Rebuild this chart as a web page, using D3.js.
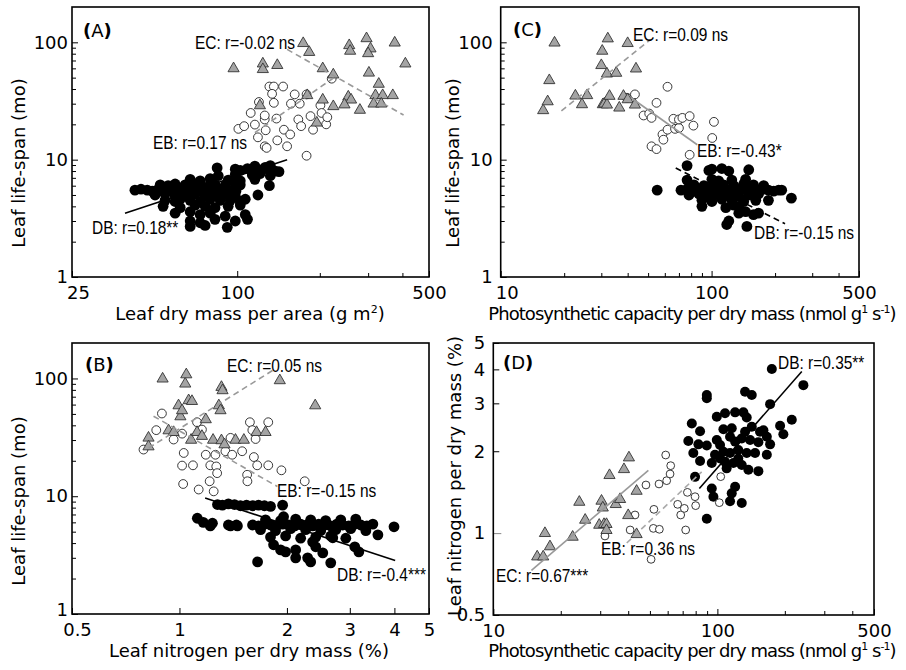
<!DOCTYPE html>
<html>
<head>
<meta charset="utf-8">
<script src="https://cdn.jsdelivr.net/npm/d3@7"></script>
<style>
  body { margin: 0; background: #fff; }
  svg { display: block; }
</style>
</head>
<body>
<div id="vis"></div>
<script>
// ---- (A) leaf life-span vs leaf dry mass per area ----
const aEcX = [97, 124, 124, 140, 174, 183, 205, 224, 180, 205, 224, 195, 256, 258, 296, 306, 300, 302, 328, 319, 339, 314, 335, 254, 260, 246, 280, 375, 410, 369, 121];
const aEcY = [61, 67, 60, 65, 100, 84, 61, 54, 36, 33, 29, 21, 96, 86, 110, 90, 82, 56, 45, 36, 36, 30.5, 30.5, 35, 33, 30, 27, 101, 67, 36, 29.5];
const aEbX = [101, 106, 112, 116, 119, 120, 127, 126, 126, 131, 136, 147, 134, 136, 139, 140, 148, 152, 156, 162, 157, 169, 167, 171, 179, 185, 189, 201, 203, 211, 213, 221, 179, 126, 128];
const aEbY = [18.3, 19.3, 25, 19.9, 15.5, 31, 17.8, 22, 23.8, 42, 42, 42, 36.4, 30.5, 22.4, 14.6, 18, 13, 16.4, 36, 30, 30, 22, 19.3, 36, 23.5, 18, 29, 25, 20, 23, 49, 10.8, 13, 12.6];
const aDbX = [42.4, 44.6, 47, 49, 51, 53.3, 55.5, 58, 60.4, 63, 65.7, 68.5, 71.5, 74.5, 77.7, 81, 84.5, 88, 92, 96, 99,
  52.4, 56, 59.4, 64.6, 69, 73.3, 79.7, 83, 90.4, 98.4, 102.6,
  50.2, 54.6, 59.4, 64.6, 70.3, 76.4, 83, 90.4, 98.4,
  54.6, 59.4, 62, 67.4, 73.3, 79.7, 86.7, 94.3, 102.6, 107,
  53.7, 62, 70.3, 76.4, 83, 92.7, 102.6,
  59.4, 67.4, 73.3, 79.7, 90.4, 107,
  67.4, 73.3, 83, 98.4, 109,
  67.4, 76.4, 92,
  67.4, 73.3, 79.7, 92.7, 102.6, 116,
  85.3, 98.4, 113.5, 121, 132,
  84.5, 98.4, 102.6, 109, 123.4, 137.7,
  116, 126.5, 132,
  119, 131, 142, 128.7];
const aDbY = [5.5, 5.6, 5.5, 5.4, 5.5, 5.6, 5.5, 5.4, 5.5, 5.6, 5.5, 5.5, 5.4, 5.6, 5.5, 5.5, 5.4, 5.6, 5.5, 5.5, 5.4,
  6.1, 6.0, 6.2, 6.1, 6.3, 6.0, 6.2, 6.1, 6.0, 6.2, 6.1,
  5.0, 5.1, 4.9, 5.0, 5.1, 4.9, 5.0, 5.1, 4.9,
  4.5, 4.4, 4.6, 4.5, 4.4, 4.6, 4.5, 4.5, 4.4, 4.6,
  4.0, 3.9, 4.1, 4.0, 3.9, 4.0, 4.1,
  3.5, 3.6, 3.4, 3.5, 3.3, 3.4,
  3.0, 2.9, 3.1, 3.0, 3.1,
  2.7, 2.75, 2.65,
  6.8, 6.6, 6.9, 6.7, 6.6, 6.8,
  7.3, 7.5, 7.4, 7.6, 7.3,
  8.5, 8.3, 8.1, 8.4, 8.2, 8.0,
  8.8, 8.6, 8.9,
  5.0, 6.0, 7.9, 8.5];
const aFitEC = [[152, 87], [404, 24]];
const aFitEB = [[116, 17], [228, 51]];
const aFitDB = [[39, 3.5], [152, 10]];

// ---- (C) leaf life-span vs photosynthetic capacity ----
const cEcX = [15.9, 16.7, 17, 18, 22.6, 24.3, 25.7, 30, 30.3, 30.5, 31, 31.9, 32.2, 31.9, 32.8, 35.3, 36.5, 38.2, 40, 40, 43.3, 43.8];
const cEcY = [26.8, 31.9, 48.3, 101, 35.7, 30.1, 36, 64.9, 86, 30.1, 30.5, 29.9, 109.6, 55, 35.5, 55.8, 28.2, 35.5, 100, 33.2, 29.9, 60.7];
const cEbX = [39.7, 43.3, 47.6, 50.6, 51.9, 54.8, 51.9, 54.8, 58.5, 59.1, 61.8, 61.8, 65.9, 67.1, 70, 70, 72.7, 78.7, 82, 78.7, 100.7, 102.6];
const cEbY = [33.7, 36, 23.8, 24.7, 22.7, 30.5, 13, 12.3, 16.4, 14.8, 41.8, 18, 22.3, 18.3, 18.6, 22, 22.7, 23.5, 19.5, 11, 15.3, 21];
const cDbX = [55.2, 71.6, 76.5, 82.5, 87.1, 92, 97.1, 102.5, 108, 114, 120.7, 127.4, 134.6, 142, 150, 158, 167, 176.6, 186, 197, 208, 215,
  82.5, 92, 102.5, 114, 127.4, 142, 158, 176.6,
  78.1, 87.1, 97.1, 108, 118, 134.6, 150, 167, 239,
  90, 100.3, 111.8, 124.7, 142, 162, 186,
  76.5, 100.3, 108, 124.7, 145,
  97.1, 100.3, 111.8, 120.7, 150,
  76.5,
  90, 116.8, 127.4, 134.6,
  134.6, 145, 158, 167,
  118, 120.7, 147];
const cDbY = [5.5, 5.5, 5.6, 5.4, 5.5, 5.6, 5.5, 5.4, 5.5, 5.6, 5.5, 5.4, 5.5, 5.6, 5.5, 5.4, 5.5, 5.6, 5.5, 5.4, 5.5, 5.5,
  6.1, 6.0, 6.2, 6.1, 6.0, 6.2, 6.1, 6.0,
  5.0, 5.1, 4.9, 5.0, 5.1, 4.9, 5.0, 5.1, 4.7,
  4.5, 4.4, 4.6, 4.5, 4.4, 4.5, 4.5,
  6.7, 6.8, 6.6, 6.7, 6.8,
  8.1, 8.3, 8.4, 8.0, 8.2,
  8.9,
  4.0, 3.9, 4.1, 4.0,
  3.5, 3.6, 3.4, 3.5,
  2.8, 3.0, 2.7];
const cFitEC = [[19.4, 26], [51.5, 106]];
const cFitEB = [[41.5, 33.7], [85.5, 13.4]];
const cFitDB = [[67.6, 8.5], [223, 2.84]];

// ---- (B) leaf life-span vs leaf nitrogen ----
const bEcX = [0.819, 0.819, 0.897, 0.932, 0.963, 0.994, 1.006, 1.017, 1.038, 1.045, 1.061, 1.084, 1.078, 1.12, 1.156, 1.185, 1.289, 1.303, 1.311, 1.32, 1.242, 1.311, 1.337, 1.435, 1.515, 1.644, 1.742, 1.91, 2.40];
const bEcY = [31.9, 26.9, 101.3, 36.8, 35.6, 60, 48.4, 54.5, 91.8, 110, 66.3, 65.3, 30.6, 35.6, 33, 45.7, 60, 54.5, 86, 80.6, 30.6, 30.3, 28, 30.6, 30.6, 35.6, 35.6, 98, 60];
const bEbX = [0.793, 0.861, 0.893, 0.963, 1.017, 1.028, 1.017, 1.024, 1.091, 1.132, 1.12, 1.156, 1.185, 1.22, 1.215, 1.247, 1.261, 1.268, 1.275, 1.345, 1.405, 1.498, 1.547, 1.55, 1.575, 1.6, 1.616, 1.634, 1.651, 1.773, 1.773, 1.93, 2.243, 1.39];
const bEbY = [24.9, 36.4, 50.4, 30.3, 34, 23.3, 18.2, 12.7, 18.3, 11.4, 42.5, 36.8, 22.5, 18.3, 13.4, 11, 22.5, 17.9, 15.7, 24.1, 22.5, 24.1, 15.2, 13.4, 42.5, 36.4, 21.5, 30.6, 18.3, 42.5, 18.3, 16.6, 13.4, 31.3];
const bDbX = [1.278, 1.319, 1.371, 1.426, 1.482, 1.541, 1.602, 1.665, 1.73, 1.799, 1.945, 1.957,
  1.122, 1.166, 1.22, 1.237, 1.39, 1.453, 1.371, 1.444,
  1.602, 1.665, 1.73, 1.799, 1.87, 1.945, 2.022, 2.103, 2.185, 2.272, 2.361, 2.455, 2.552, 2.653, 2.758, 2.864, 2.978, 3.098, 3.221, 3.348, 3.481, 3.99,
  1.742, 1.92, 2.116, 2.331, 2.568, 2.83, 3.118,
  1.687, 1.858, 2.049, 2.257, 2.487, 2.741, 3.018, 3.327, 3.596,
  1.799, 1.983, 2.185, 2.408, 2.653, 2.924,
  1.835, 1.92, 1.983, 2.116, 2.361, 2.408, 2.286, 2.52, 2.688, 3.098, 3.18, 1.655, 2.116, 2.331, 2.653];
const bDbY = [8.5, 8.4, 8.6, 8.5, 8.3, 8.4, 8.3, 8.4, 8.3, 8.2, 8.4, 6.7,
  6.5, 6.0, 5.6, 5.9, 5.6, 5.6, 5.7, 5.7,
  5.7, 5.6, 5.8, 5.7, 5.6, 5.8, 5.7, 5.6, 5.8, 5.7, 5.6, 5.8, 5.7, 5.6, 5.8, 5.7, 5.6, 5.8, 5.7, 5.6, 5.8, 5.5,
  6.3, 6.2, 6.4, 6.3, 6.2, 6.3, 6.4,
  5.2, 5.1, 5.3, 5.2, 5.1, 5.2, 5.3, 5.1, 4.7,
  4.5, 4.6, 4.4, 4.5, 4.6, 4.4,
  3.87, 3.5, 3.37, 3.5, 4.1, 3.72, 3.0, 3.3, 4.44, 3.72, 3.37, 2.77, 3.0, 2.77, 2.72];
const bFitEC = [[0.82, 25.7], [1.84, 119]];
const bFitEB = [[0.846, 47.8], [1.88, 12.1]];
const bFitDB = [[1.18, 9.65], [4.02, 2.84]];

// ---- (D) leaf nitrogen vs photosynthetic capacity ----
const dEcX = [15.7, 16.7, 17, 17.9, 22.6, 24.2, 25.7, 29.7, 30.4, 30.8, 31.2, 32, 32, 33, 35.2, 36.8, 38.3, 40.3, 40, 43.6, 43.6];
const dEcY = [0.826, 0.826, 1.007, 0.9, 0.976, 1.312, 1.127, 1.08, 1.324, 1.25, 1.087, 1.087, 1.033, 1.645, 1.287, 1.343, 1.73, 1.91, 1.172, 1.44, 0.998];
const dEbX = [31.5, 40.8, 42.9, 48, 50.6, 51.8, 52.1, 54.9, 55.1, 58.8, 59.4, 61.9, 61.5, 66.5, 68.6, 71.2, 72.2, 73.5, 79.5, 80, 102, 103.5];
const dEbY = [0.976, 1.027, 1.166, 1.503, 0.801, 1.041, 1.223, 1.516, 1.033, 1.937, 1.559, 1.77, 1.65, 1.276, 1.166, 1.233, 1.027, 1.412, 1.361, 1.262, 1.294, 1.613];
const dDbX = [175, 242, 89.7, 89.7, 132.9, 142.4, 171.9, 99.4, 108.2, 120, 130.6, 135.2, 76.9, 83.7, 106.4, 115.9, 132.9, 142.4, 160.5, 190.5,
  197, 214.8, 74.2, 82.3, 89.7, 78.1, 102.8, 113.9, 120, 128.5, 140, 152.4, 166.2, 171.9, 97.6, 106.4, 113.9, 124, 135.2, 147.3,
  166.2, 83.7, 94.4, 108.2, 117.9, 128.5, 137.5, 152.4, 110, 79.5, 120, 94.4, 96, 115.9, 113.9, 128.5, 89.7, 102.8, 124, 99.4, 155];
const dDbY = [4.01, 3.5, 3.22, 3.13, 3.31, 3.22, 2.98, 2.68, 2.76, 2.78, 2.78, 2.66, 2.53, 2.37, 2.41, 2.43, 2.36, 2.46, 2.39, 2.48,
  2.31, 2.61, 2.18, 2.12, 2.10, 1.97, 2.11, 2.26, 2.17, 2.23, 2.2, 2.16, 2.26, 2.12, 1.94, 1.99, 1.97, 2.02, 1.97, 1.97,
  1.94, 1.84, 1.81, 1.83, 1.81, 1.78, 1.71, 1.69, 1.73, 1.61, 1.48, 1.46, 1.36, 1.40, 1.31, 1.29, 1.13, 1.88, 1.88, 2.2, 2.36];
const dFitEC = [[14.8, 0.73], [49.2, 1.70]];
const dFitEB = [[39.4, 0.92], [85.1, 1.68]];
const dFitDB = [[83.1, 1.46], [238, 3.93]];

// ---- ticks ----
const lifeTicks = [1, 2, 3, 4, 5, 6, 7, 8, 9, 10, 20, 30, 40, 50, 60, 70, 80, 90, 100];
const lifeLabels = [1, 10, 100];
const lmaTicks = [25, 100, 200, 300, 400, 500];
const lmaLabels = [25, 100, 500];
const amassTicks = [10, 20, 30, 40, 50, 60, 70, 80, 90, 100, 200, 300, 400, 500];
const amassLabels = [10, 100, 500];
const nmassTicks = [0.5, 1, 2, 3, 4, 5];
const nmassLabels = [0.5, 1, 2, 3, 4, 5];

// no narrow face installed, so squeeze Liberation Sans sideways
const noteFont = "'Liberation Sans', Arial, sans-serif";
const noteSqueeze = 0.86;
const mainFont = "'DejaVu Sans', sans-serif";

const svg = d3.select("#vis").append("svg")
  .attr("width", 906)
  .attr("height", 670)
  .attr("font-family", mainFont);

function drawPanel(p) {
  const x = d3.scaleLog().domain(p.xDomain).range(p.xRange);
  const y = d3.scaleLog().domain(p.yDomain).range(p.yRange);
  const g = svg.append("g");

  // bottom axis, ticks pointing in
  g.append("g")
    .attr("transform", `translate(0,${p.yRange[0]})`)
    .call(d3.axisBottom(x)
      .tickValues(p.xTicks)
      .tickSizeInner(-4)
      .tickSizeOuter(0)
      .tickPadding(9)
      .tickFormat(d => p.xLabels.includes(d) ? d : ""))
    .attr("font-size", 18)
    .attr("font-family", mainFont)
    .call(a => a.select(".domain").remove())
    .call(a => a.selectAll(".tick line").attr("y2", d => p.xLabels.includes(d) ? -6 : -4))
    .call(a => a.selectAll(".tick text")
      .attr("fill", "#000")
      .filter(d => d === p.xDomain[0])
      .attr("dx", p.firstDx));

  // left axis
  g.append("g")
    .attr("transform", `translate(${p.xRange[0]},0)`)
    .call(d3.axisLeft(y)
      .tickValues(p.yTicks)
      .tickSizeInner(-4)
      .tickSizeOuter(0)
      .tickPadding(p.yPad)
      .tickFormat(d => p.yLabels.includes(d) ? d : ""))
    .attr("font-size", 18)
    .attr("font-family", mainFont)
    .call(a => a.select(".domain").remove())
    .call(a => a.selectAll(".tick text")
      .attr("fill", "#000")
      .filter(d => d === p.yDomain[0])
      .attr("dy", p.yFirstDy || "0.32em"))
    .call(a => a.selectAll(".tick line").attr("x2", d => p.yLabels.includes(d) ? 6 : 4));

  if (p.grayTick) {
    g.selectAll(".tick line")
      .filter(d => d === p.grayTick)
      .attr("stroke", "#888")
      .attr("x2", 8);
  }

  // deciduous broadleaf: black dots
  g.append("g").selectAll("circle")
    .data(d3.zip(p.db[0], p.db[1]))
    .join("circle")
    .attr("cx", d => x(d[0]))
    .attr("cy", d => y(d[1]))
    .attr("r", p.dbR)
    .attr("fill", "#000");

  // evergreen broadleaf: open circles
  g.append("g").selectAll("circle")
    .data(d3.zip(p.eb[0], p.eb[1]))
    .join("circle")
    .attr("cx", d => x(d[0]))
    .attr("cy", d => y(d[1]))
    .attr("r", p.ebR)
    .attr("fill", "#fff")
    .attr("stroke", "#222")
    .attr("stroke-width", 0.9);

  // evergreen conifer: grey triangles
  g.append("g").selectAll("path")
    .data(d3.zip(p.ec[0], p.ec[1]))
    .join("path")
    .attr("transform", d => `translate(${x(d[0])},${y(d[1]) + 1})`)
    .attr("d", d3.symbol(d3.symbolTriangle, 54))
    .attr("fill", "#a4a4a4")
    .attr("stroke", "#333")
    .attr("stroke-width", 0.9);

  // fitted lines
  const line = d3.line().x(d => x(d[0])).y(d => y(d[1]));
  p.fits.forEach(f => {
    g.append("path")
      .attr("d", line(f.pts))
      .attr("fill", "none")
      .attr("stroke", f.color)
      .attr("stroke-width", 1.6)
      .attr("stroke-dasharray", f.dash);
  });

  // annotations
  p.notes.forEach(n => {
    g.append("text")
      .attr("transform", `translate(${n.x},${n.y}) scale(${noteSqueeze},1)`)
      .attr("dy", "0.35em")
      .attr("font-family", noteFont)
      .attr("font-size", 18)
      .text(n.text);
  });

  // frame
  g.append("rect")
    .attr("x", p.xRange[0])
    .attr("y", p.yRange[1])
    .attr("width", p.xRange[1] - p.xRange[0])
    .attr("height", p.yRange[0] - p.yRange[1])
    .attr("fill", "none")
    .attr("stroke", "#000")
    .attr("stroke-width", 1.6);

  // panel letter
  const tag = g.append("text")
    .attr("x", p.tag.x)
    .attr("y", p.tag.y)
    .attr("dy", "0.35em")
    .attr("font-size", 18);
  tag.append("tspan").attr("font-weight", "bold").text("(");
  tag.append("tspan").text(p.tag.letter);
  tag.append("tspan").attr("font-weight", "bold").text(")");

  // x title, with raised exponents
  const xt = g.append("text")
    .attr("x", p.xTitle.x)
    .attr("y", p.xTitle.y)
    .attr("dy", "0.35em")
    .attr("text-anchor", "middle")
    .attr("font-size", 18)
    .attr("letter-spacing", p.xTitle.spacing || 0);
  let raised = false;
  p.xTitle.parts.forEach(part => {
    const t = xt.append("tspan");
    if (part.sup) {
      t.attr("font-size", 11).attr("dy", raised ? 0 : -7).text(part.sup);
      raised = true;
    } else {
      t.attr("dy", raised ? 7 : 0).text(part.t);
      raised = false;
    }
  });

  // y title
  g.append("text")
    .attr("transform", `translate(${p.yTitle.x},${p.yTitle.y}) rotate(-90)`)
    .attr("dy", "0.35em")
    .attr("text-anchor", "middle")
    .attr("font-size", 18)
    .text(p.yTitle.text);
}

const lifeTitle = "Leaf life-span (mo)";
const amassTitle = [{ t: "Photosynthetic capacity per dry mass (nmol g" }, { sup: "1" }, { t: " s" }, { sup: "-1" }, { t: ")" }];

drawPanel({
  xDomain: [25, 500], xRange: [72, 429],
  yDomain: [1, 200], yRange: [277, 7],
  xTicks: lmaTicks, xLabels: lmaLabels, firstDx: 6,
  yTicks: lifeTicks, yLabels: lifeLabels, yPad: 4,
  ec: [aEcX, aEcY], eb: [aEbX, aEbY], db: [aDbX, aDbY], dbR: 5.4, ebR: 4.4,
  fits: [
    { pts: aFitEC, color: "#999", dash: "6,4" },
    { pts: aFitEB, color: "#999", dash: "6,4" },
    { pts: aFitDB, color: "#000", dash: null }
  ],
  notes: [
    { x: 195, y: 43, text: "EC: r=-0.02 ns" },
    { x: 153, y: 143, text: "EB: r=0.17 ns" },
    { x: 92, y: 228, text: "DB: r=0.18**" }
  ],
  tag: { x: 83, y: 31, letter: "A" },
  xTitle: { x: 250, y: 320, parts: [{ t: "Leaf dry mass per area (g m" }, { sup: "2" }, { t: ")" }] },
  yTitle: { x: 19, y: 163, text: lifeTitle }
});

drawPanel({
  xDomain: [10, 500], xRange: [500.7, 859],
  yDomain: [1, 200], yRange: [277, 7],
  xTicks: amassTicks, xLabels: amassLabels, firstDx: 6,
  yTicks: lifeTicks, yLabels: lifeLabels, yPad: 8,
  ec: [cEcX, cEcY], eb: [cEbX, cEbY], db: [cDbX, cDbY], dbR: 5.4, ebR: 4.4,
  fits: [
    { pts: cFitEC, color: "#999", dash: "6,4" },
    { pts: cFitEB, color: "#999", dash: null },
    { pts: cFitDB, color: "#000", dash: "6,4" }
  ],
  notes: [
    { x: 633, y: 35, text: "EC: r=0.09 ns" },
    { x: 697, y: 151, text: "EB: r=-0.43*" },
    { x: 754, y: 233, text: "DB: r=-0.15 ns" }
  ],
  tag: { x: 513, y: 30, letter: "C" },
  xTitle: { x: 692, y: 320, parts: amassTitle, spacing: -0.95 },
  yTitle: { x: 453, y: 163, text: lifeTitle }
});

drawPanel({
  xDomain: [0.5, 5], xRange: [72, 429],
  yDomain: [1, 200], yRange: [614, 343],
  xTicks: nmassTicks, xLabels: nmassLabels, firstDx: 5, yFirstDy: "0.1em",
  yTicks: lifeTicks, yLabels: lifeLabels, yPad: 4,
  ec: [bEcX, bEcY], eb: [bEbX, bEbY], db: [bDbX, bDbY], dbR: 5.4, ebR: 4.4,
  fits: [
    { pts: bFitEC, color: "#999", dash: "6,4" },
    { pts: bFitEB, color: "#999", dash: "6,4" },
    { pts: bFitDB, color: "#000", dash: null }
  ],
  notes: [
    { x: 227, y: 366, text: "EC: r=0.05 ns" },
    { x: 277, y: 491, text: "EB: r=-0.15 ns" },
    { x: 337, y: 575, text: "DB: r=-0.4***" }
  ],
  tag: { x: 85, y: 365, letter: "B" },
  xTitle: { x: 249, y: 657, parts: [{ t: "Leaf nitrogen per dry mass (%)" }] },
  yTitle: { x: 19, y: 501, text: lifeTitle }
});

drawPanel({
  xDomain: [10, 500], xRange: [493.3, 874],
  yDomain: [0.5, 5], yRange: [615, 343],
  xTicks: amassTicks, xLabels: amassLabels, firstDx: 0,
  yTicks: nmassTicks, yLabels: nmassLabels, yPad: 8, grayTick: 1,
  ec: [dEcX, dEcY], eb: [dEbX, dEbY], db: [dDbX, dDbY], dbR: 5, ebR: 3.9,
  fits: [
    { pts: dFitEC, color: "#999", dash: null },
    { pts: dFitEB, color: "#aaa", dash: "6,4" },
    { pts: dFitDB, color: "#000", dash: null }
  ],
  notes: [
    { x: 778, y: 363, text: "DB: r=0.35**" },
    { x: 601, y: 549, text: "EB: r=0.36 ns" },
    { x: 496, y: 576, text: "EC: r=0.67***" }
  ],
  tag: { x: 503, y: 363, letter: "D" },
  xTitle: { x: 692, y: 657, parts: amassTitle, spacing: -0.95 },
  yTitle: { x: 455, y: 476, text: "Leaf nitrogen per dry mass (%)" }
});
</script>
</body>
</html>
